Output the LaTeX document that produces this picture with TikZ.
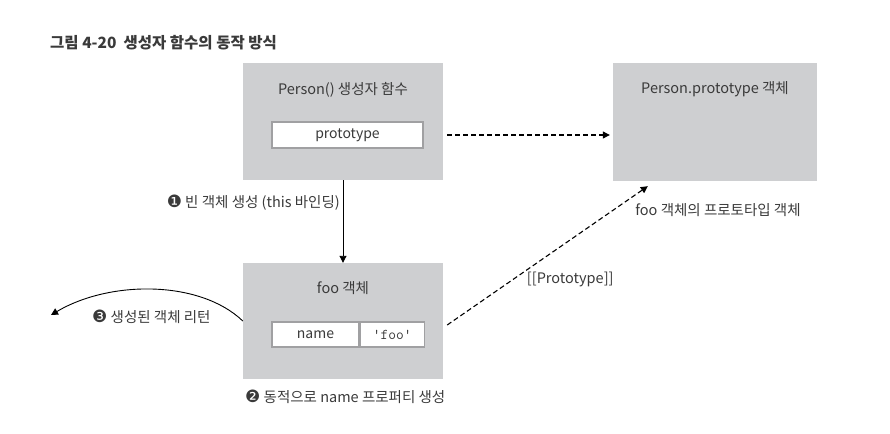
\documentclass[tikz,border=0pt]{standalone}
\usepackage{fontspec}
\setmainfont{Noto Sans CJK KR}
\newfontfamily\numfont{DejaVu Sans}
\usetikzlibrary{arrows.meta,positioning}
\definecolor{boxgray}{RGB}{206,207,209}
\definecolor{inkgray}{RGB}{58,58,58}
\definecolor{slotline}{RGB}{160,160,162}
\tikzset{
  objbox/.style={fill=boxgray,draw=none,inner sep=0pt},
  slot/.style={fill=white,draw=slotline,line width=1.2pt,inner sep=0pt,font=\fontsize{14}{16}\selectfont,text=inkgray},
  txt/.style={font=\fontsize{14.5}{17}\selectfont,text=inkgray,inner sep=0pt},
  solidarrow/.style={-{Triangle[length=7pt,width=7pt]},line width=0.9pt,black},
  dasharrow/.style={-{Triangle[length=7pt,width=7pt]},line width=1.1pt,black,dash pattern=on 5pt off 3pt},
}
\newcommand{\stepno}[1]{{\numfont\fontsize{17}{18}\selectfont#1}}
\begin{document}
\begin{tikzpicture}[x=1pt,y=-1pt]
      \useasboundingbox (0,0) rectangle (890,433);
      % title
      \node[txt,anchor=west,font=\fontsize{15.5}{18}\bfseries\selectfont] (title) at (50,43) {그림 4-20\ \ 생성자 함수의 동작 방식};
      % boxes
      \node[objbox,minimum width=200pt,minimum height=117pt] (person) at (343,121.5) {};
      \node[objbox,minimum width=204pt,minimum height=118pt] (proto) at (715,122) {};
      \node[objbox,minimum width=200pt,minimum height=116pt] (foo) at (343,321) {};
      \node[txt] (personlabel) at (343,90) {Person() 생성자 함수};
      \node[slot,minimum width=151pt,minimum height=26pt] (protoslot) at (347.5,135) {prototype};
      \node[txt] (protolabel) at (715,89) {Person.prototype 객체};
      \node[txt] (protonote) at (718,210) {foo 객체의 프로토타입 객체};
      \node[txt] (foolabel) at (343,288) {foo 객체};
      \node[slot,minimum width=87pt,minimum height=25pt] (namekey) at (315.5,334.5) {name};
      \node[slot,minimum width=64pt,minimum height=25pt,right=0pt of namekey] (nameval) {\fontsize{15}{16}\selectfont\texttt{'foo'}};
      \coordinate (ret) at (51,315);
      % arrows
      \draw[dasharrow] ([xshift=4pt]protoslot.east -| person.east) -- ([xshift=-3pt]protoslot.east -| proto.west);
      \draw[solidarrow] (person.south) -- (foo.north);
      \node[txt,anchor=east] (step1) at (340,203) {\stepno{❶} 빈 객체 생성 (this 바인딩)};
      \draw[solidarrow] (foo.west) .. controls (200,280) and (110,280) .. (ret);
      \node[txt,anchor=west] (step3) at (92,317) {\stepno{❸} 생성된 객체 리턴};
      \draw[dasharrow] ([xshift=4pt,yshift=-4pt]foo.east) -- ([shift={(35,5)}]proto.south west)
        node[pos=0.39,anchor=north west,txt,inner sep=1pt] (protolink) {[[Prototype]]};
      \node[txt,anchor=west] (step2) at (245,397) {\stepno{❷} 동적으로 name 프로퍼티 생성};
\end{tikzpicture}
\end{document}
